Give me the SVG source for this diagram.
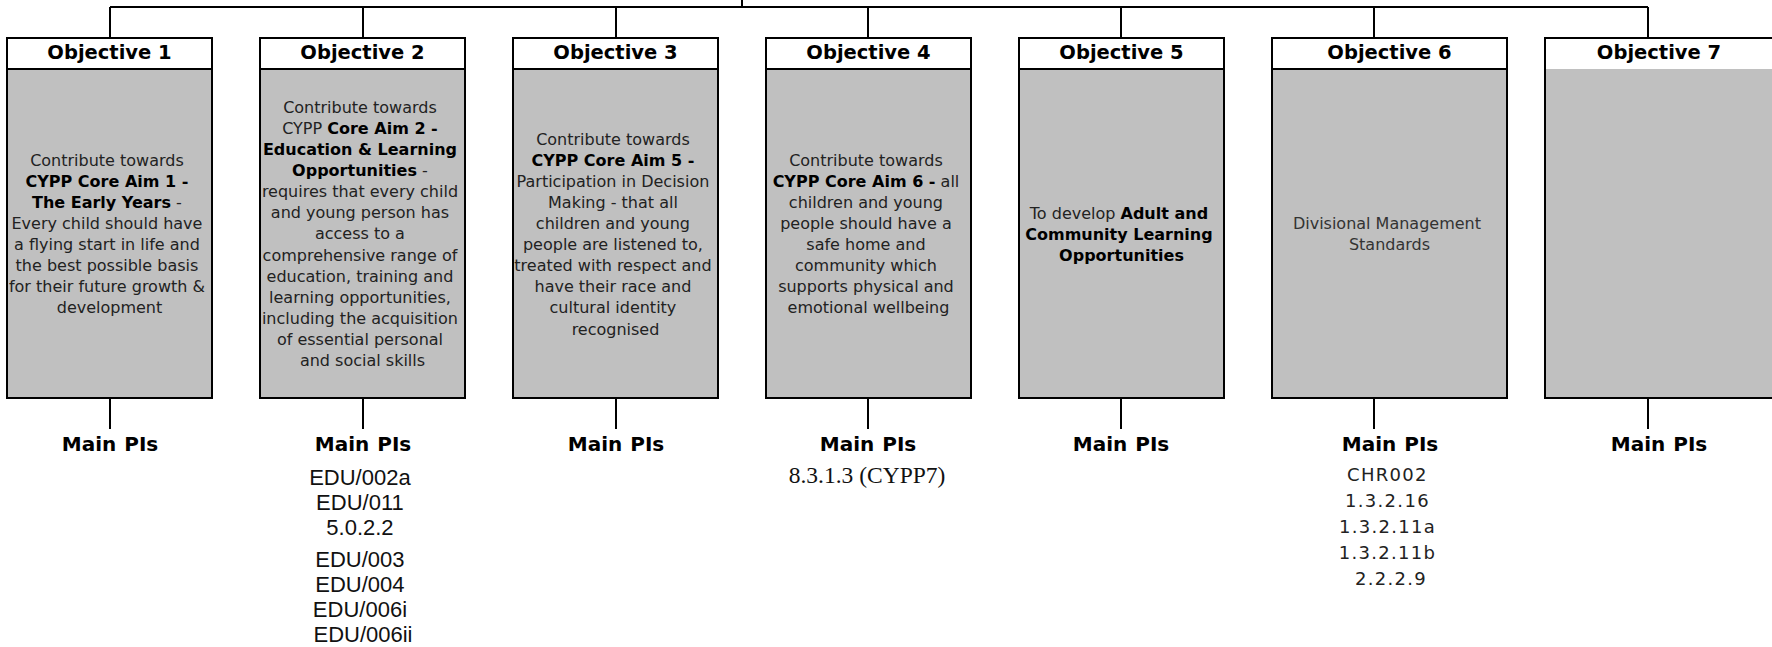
<svg xmlns="http://www.w3.org/2000/svg" width="1772" height="647" viewBox="0 0 1772 647">
<style>
.box{fill:#c0c0c0;stroke:#000;stroke-width:2}
.hdr{fill:#fff;stroke:none}
.div{stroke:#000;stroke-width:2}
.ht{font-family:"DejaVu Sans",Verdana,sans-serif;font-weight:bold;font-size:19.5px;fill:#000;text-anchor:middle}
.bt{font-family:"DejaVu Sans",Verdana,sans-serif;font-size:16px;fill:#222;text-anchor:middle}
.bt .b{font-weight:bold;fill:#000}
.mp{font-family:"DejaVu Sans",Verdana,sans-serif;font-weight:bold;font-size:20px;fill:#000;text-anchor:middle;word-spacing:1px}
.pi{font-family:"Liberation Sans",Arial,sans-serif;font-size:22px;fill:#111;text-anchor:middle}
.pis{font-family:"Liberation Serif","Times New Roman",serif;font-size:23.5px;fill:#111;text-anchor:middle}
.pi6{font-family:"DejaVu Sans",Verdana,sans-serif;font-size:18px;letter-spacing:1.3px;fill:#222;text-anchor:middle}
.con{fill:none;stroke:#000;stroke-width:2}
</style>
<g id="connectors">
<path class="con" d="M110 7 H1648 M742 0 V7 M110 7 V38 M363 7 V38 M616 7 V38 M868 7 V38 M1121 7 V38 M1374 7 V38 M1648 7 V38"/>
<path class="con" d="M110 398 V429 M363 398 V429 M616 398 V429 M868 398 V429 M1121 398 V429 M1374 398 V429 M1648 398 V429"/>
</g>
<g id="obj1">
<rect class="box" x="7" y="38" width="205" height="360"/>
<rect class="hdr" x="8" y="39" width="203" height="30"/>
<line class="div" x1="7" y1="69" x2="212" y2="69"/>
<text class="ht" x="109.5" y="59">Objective 1</text>
<text class="bt" x="109.5">
<tspan x="109.5" y="166">Contribute towards</tspan>
<tspan x="109.5" y="187" class="b">CYPP Core Aim 1 -</tspan>
<tspan x="109.5" y="208"><tspan class="b">The Early Years</tspan> -</tspan>
<tspan x="109.5" y="229">Every child should have</tspan>
<tspan x="109.5" y="250">a flying start in life and</tspan>
<tspan x="109.5" y="271">the best possible basis</tspan>
<tspan x="109.5" y="292">for their future growth &amp;</tspan>
<tspan x="109.5" y="313">development</tspan>
</text>
<text class="mp" x="110" y="451">Main PIs</text>
</g>
<g id="obj2">
<rect class="box" x="260" y="38" width="205" height="360"/>
<rect class="hdr" x="261" y="39" width="203" height="30"/>
<line class="div" x1="260" y1="69" x2="465" y2="69"/>
<text class="ht" x="362.5" y="59">Objective 2</text>
<text class="bt" x="362.5">
<tspan x="362.5" y="113">Contribute towards</tspan>
<tspan x="362.5" y="134">CYPP <tspan class="b">Core Aim 2 -</tspan></tspan>
<tspan x="362.5" y="155" class="b">Education &amp; Learning</tspan>
<tspan x="362.5" y="176"><tspan class="b">Opportunities</tspan> -</tspan>
<tspan x="362.5" y="197">requires that every child</tspan>
<tspan x="362.5" y="218">and young person has</tspan>
<tspan x="362.5" y="239">access to a</tspan>
<tspan x="362.5" y="261">comprehensive range of</tspan>
<tspan x="362.5" y="282">education, training and</tspan>
<tspan x="362.5" y="303">learning opportunities,</tspan>
<tspan x="362.5" y="324">including the acquisition</tspan>
<tspan x="362.5" y="345">of essential personal</tspan>
<tspan x="362.5" y="366">and social skills</tspan>
</text>
<text class="mp" x="363" y="451">Main PIs</text>
<text class="pi">
<tspan x="363" y="485">EDU/002a</tspan>
<tspan x="363" y="510">EDU/011</tspan>
<tspan x="363" y="535">5.0.2.2</tspan>
<tspan x="363" y="567">EDU/003</tspan>
<tspan x="363" y="592">EDU/004</tspan>
<tspan x="363" y="617">EDU/006i</tspan>
<tspan x="363" y="642">EDU/006ii</tspan>
</text>
</g>
<g id="obj3">
<rect class="box" x="513" y="38" width="205" height="360"/>
<rect class="hdr" x="514" y="39" width="203" height="30"/>
<line class="div" x1="513" y1="69" x2="718" y2="69"/>
<text class="ht" x="615.5" y="59">Objective 3</text>
<text class="bt" x="615.5">
<tspan x="615.5" y="145">Contribute towards</tspan>
<tspan x="615.5" y="166" class="b">CYPP Core Aim 5 -</tspan>
<tspan x="615.5" y="187">Participation in Decision</tspan>
<tspan x="615.5" y="208">Making - that all</tspan>
<tspan x="615.5" y="229">children and young</tspan>
<tspan x="615.5" y="250">people are listened to,</tspan>
<tspan x="615.5" y="271">treated with respect and</tspan>
<tspan x="615.5" y="292">have their race and</tspan>
<tspan x="615.5" y="313">cultural identity</tspan>
<tspan x="615.5" y="335">recognised</tspan>
</text>
<text class="mp" x="616" y="451">Main PIs</text>
</g>
<g id="obj4">
<rect class="box" x="766" y="38" width="205" height="360"/>
<rect class="hdr" x="767" y="39" width="203" height="30"/>
<line class="div" x1="766" y1="69" x2="971" y2="69"/>
<text class="ht" x="868.5" y="59">Objective 4</text>
<text class="bt" x="868.5">
<tspan x="868.5" y="166">Contribute towards</tspan>
<tspan x="868.5" y="187"><tspan class="b">CYPP Core Aim 6 -</tspan> all</tspan>
<tspan x="868.5" y="208">children and young</tspan>
<tspan x="868.5" y="229">people should have a</tspan>
<tspan x="868.5" y="250">safe home and</tspan>
<tspan x="868.5" y="271">community which</tspan>
<tspan x="868.5" y="292">supports physical and</tspan>
<tspan x="868.5" y="313">emotional wellbeing</tspan>
</text>
<text class="mp" x="868" y="451">Main PIs</text>
<text class="pis" x="867" y="483">8.3.1.3 (CYPP7)</text>
</g>
<g id="obj5">
<rect class="box" x="1019" y="38" width="205" height="360"/>
<rect class="hdr" x="1020" y="39" width="203" height="30"/>
<line class="div" x1="1019" y1="69" x2="1224" y2="69"/>
<text class="ht" x="1121.5" y="59">Objective 5</text>
<text class="bt" x="1121.5">
<tspan x="1121.5" y="219">To develop <tspan class="b">Adult and</tspan></tspan>
<tspan x="1121.5" y="240" class="b">Community Learning</tspan>
<tspan x="1121.5" y="261" class="b">Opportunities</tspan>
</text>
<text class="mp" x="1121" y="451">Main PIs</text>
</g>
<g id="obj6">
<rect class="box" x="1272" y="38" width="235" height="360"/>
<rect class="hdr" x="1273" y="39" width="233" height="30"/>
<line class="div" x1="1272" y1="69" x2="1507" y2="69"/>
<text class="ht" x="1389.5" y="59">Objective 6</text>
<text class="bt" x="1389.5" style="fill:#333">
<tspan x="1389.5" y="229">Divisional Management</tspan>
<tspan x="1389.5" y="250">Standards</tspan>
</text>
<text class="mp" x="1390" y="451">Main PIs</text>
<text class="pi6">
<tspan x="1391" y="481">CHR002</tspan>
<tspan x="1391" y="507">1.3.2.16</tspan>
<tspan x="1391" y="533">1.3.2.11a</tspan>
<tspan x="1391" y="559">1.3.2.11b</tspan>
<tspan x="1391" y="585">2.2.2.9</tspan>
</text>
</g>
<g id="obj7">
<rect class="box" x="1545" y="38" width="235" height="360"/>
<rect class="hdr" x="1546" y="39" width="233" height="30"/>
<text class="ht" x="1659" y="59">Objective 7</text>
<text class="mp" x="1659" y="451">Main PIs</text>
</g>
</svg>
